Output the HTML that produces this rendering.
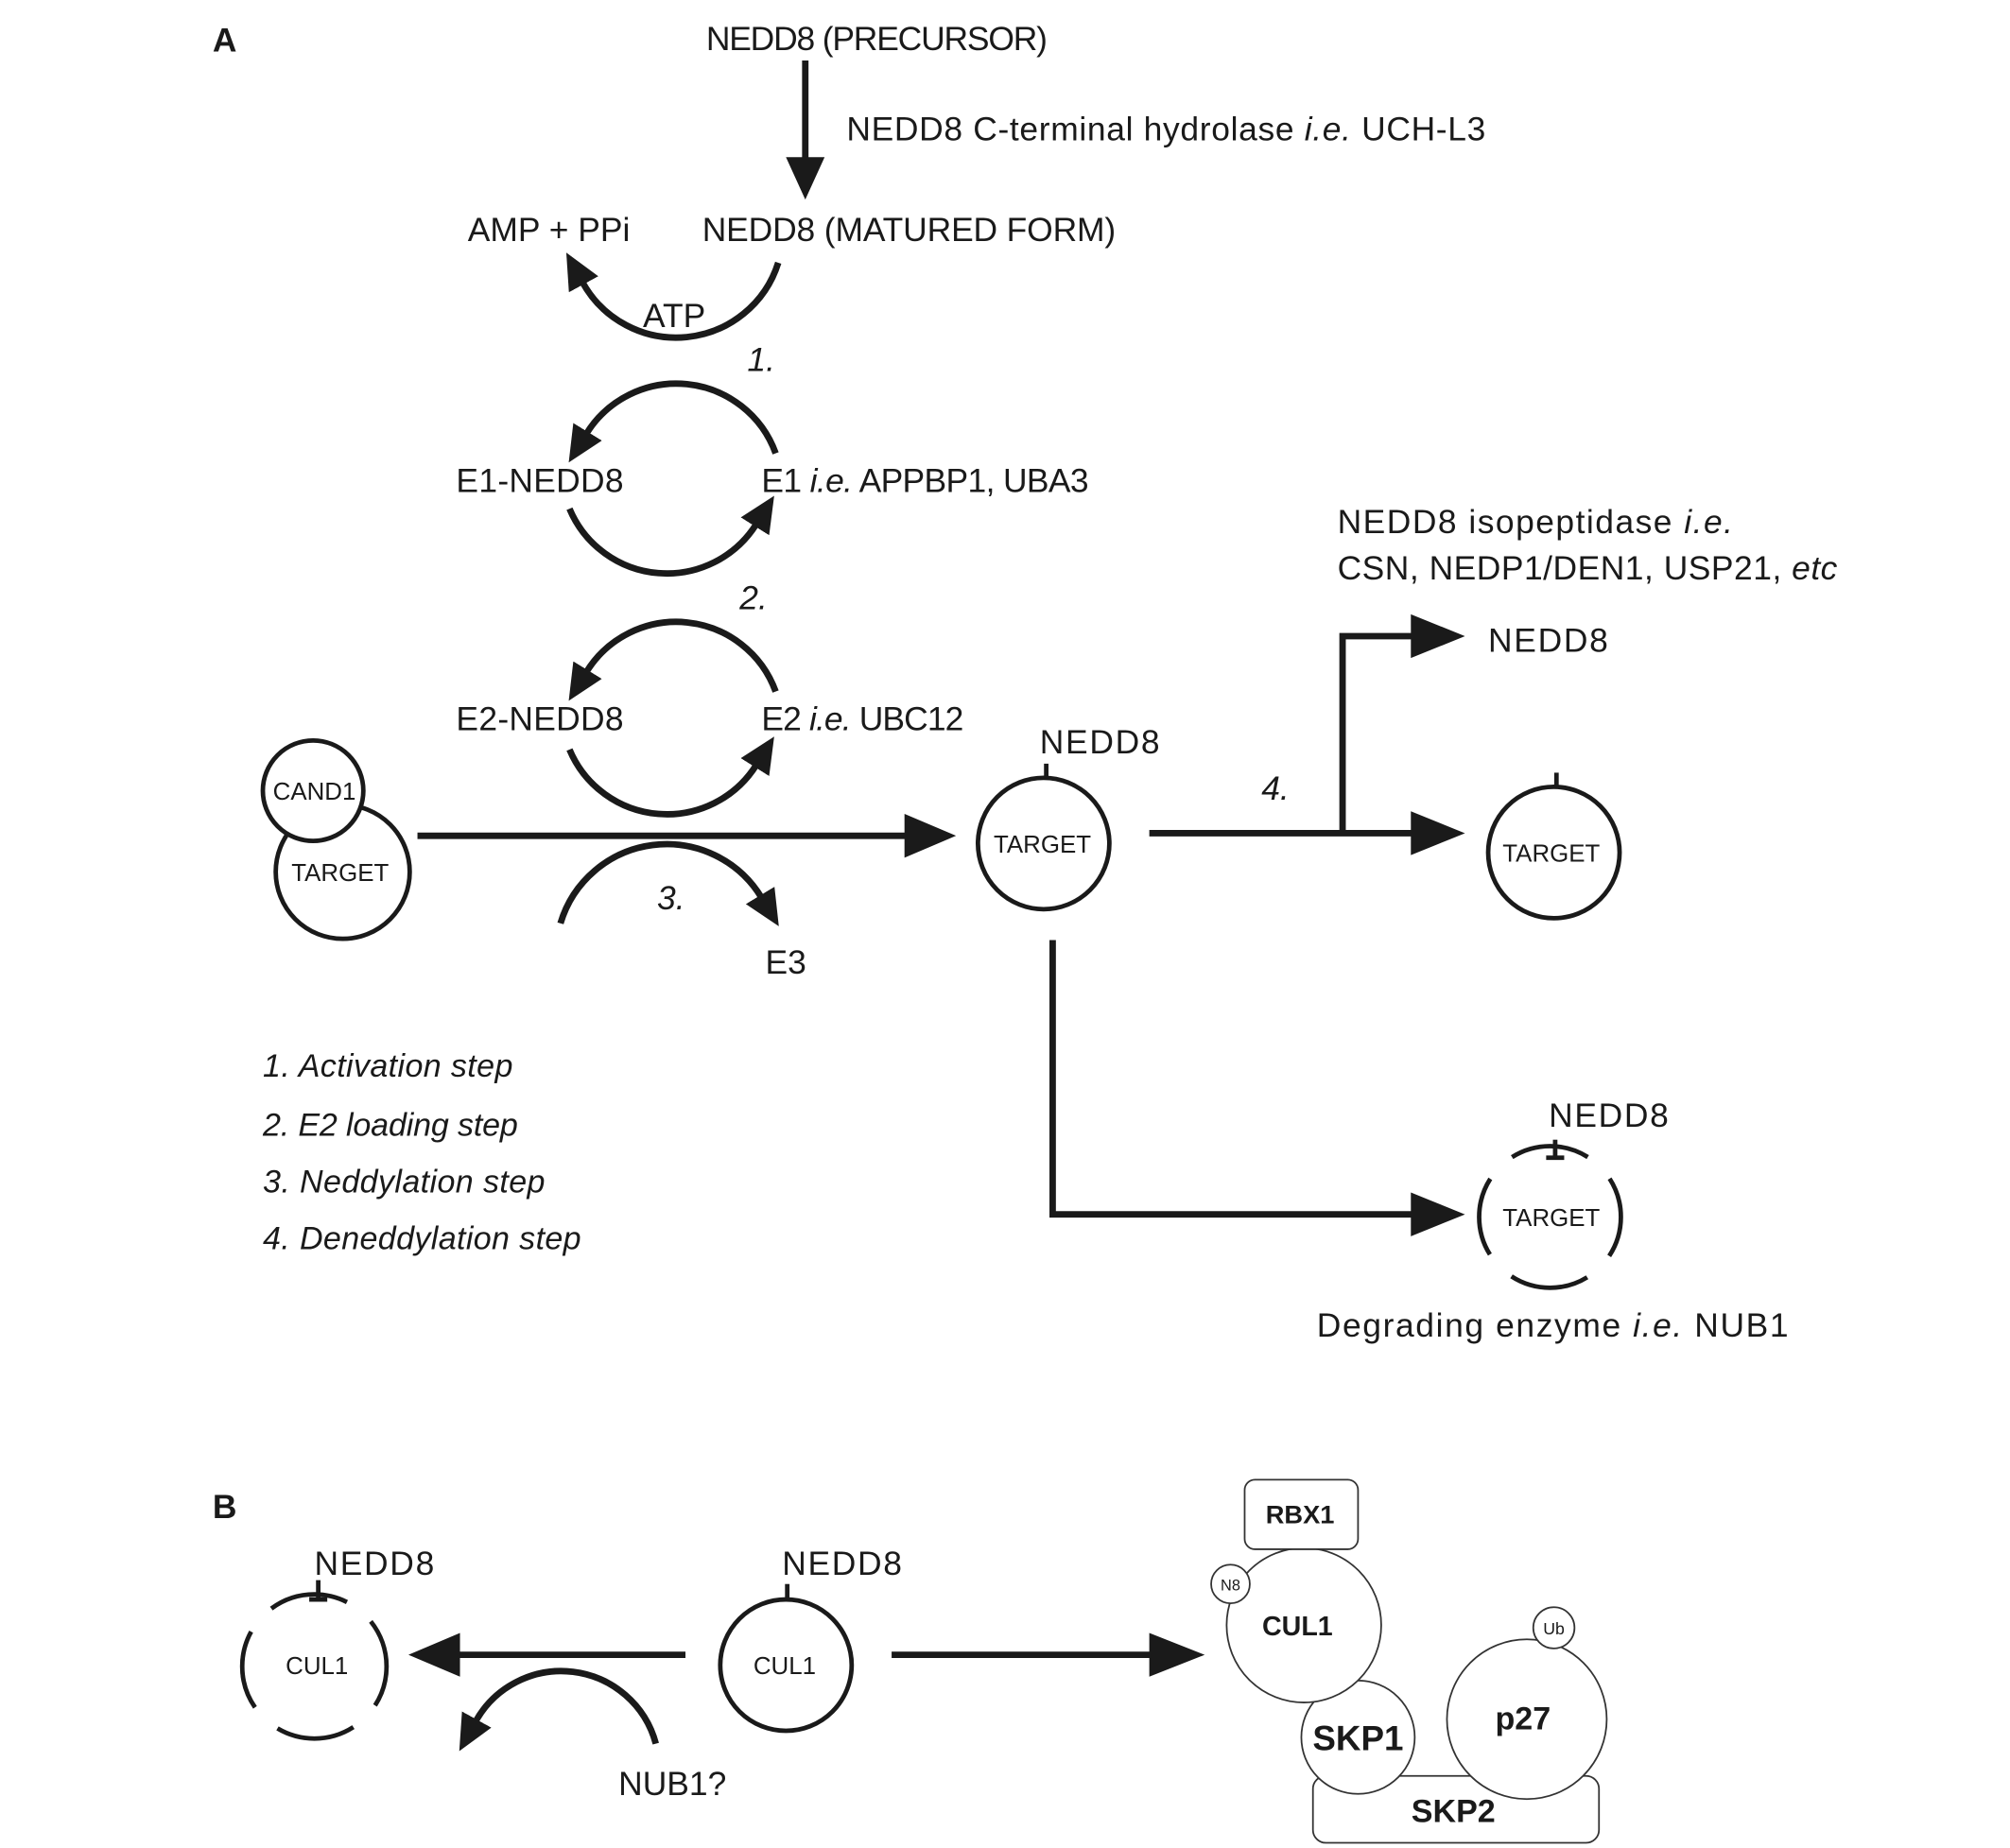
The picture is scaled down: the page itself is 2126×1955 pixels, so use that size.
<!DOCTYPE html>
<html><head><meta charset="utf-8"><style>
html,body{margin:0;padding:0;background:#fff;}
svg{display:block;}
text{font-family:"Liberation Sans",sans-serif;fill:#1a1a1a;}
</style></head><body>
<svg width="2126" height="1955" viewBox="0 0 1560 1435" preserveAspectRatio="none" xmlns="http://www.w3.org/2000/svg">
<defs>
<marker id="ah" markerUnits="userSpaceOnUse" markerWidth="40" markerHeight="40" refX="2" refY="13" orient="auto">
<path d="M0,0 L28,13 L0,26 z" fill="#1a1a1a"/>
</marker>
</defs>
<g transform="translate(-3,-3)">
<g fill="none" stroke="#1a1a1a" stroke-width="5">
<line x1="628" y1="50" x2="628" y2="128"/>
<path d="M607,207 A83,83 0 0 1 455,222" marker-end="url(#ah)"/>
<path d="M605,355 A82,82 0 0 0 458,340" marker-end="url(#ah)"/>
<path d="M445,398 A82,82 0 0 0 590,410" marker-end="url(#ah)"/>
<path d="M605,540 A82,82 0 0 0 458,525" marker-end="url(#ah)"/>
<path d="M445,585 A82,82 0 0 0 590,597" marker-end="url(#ah)"/>
<path d="M438,720 A86,86 0 0 1 594,700" marker-end="url(#ah)"/>
<line x1="327" y1="652" x2="710" y2="652"/>
<polyline points="895,650 1100,650"/>
<polyline points="1045,650 1045,497 1100,497"/>
<polyline points="820,733 820,946 1100,946"/>
<line x1="535" y1="1288" x2="358" y2="1288"/>
<line x1="695" y1="1288" x2="900" y2="1288"/>
<path d="M512,1357 A76,76 0 0 0 372,1340" marker-end="url(#ah)"/>
</g>
<g fill="#1a1a1a">
<polygon points="613,125 643,125 628,158"/>
<polygon points="705,635 745,652 705,669"/>
<polygon points="1098,480 1140,497 1098,514"/>
<polygon points="1098,633 1140,650 1098,667"/>
<polygon points="1098,929 1140,946 1098,963"/>
<polygon points="360,1271 320,1288 360,1305"/>
<polygon points="895,1271 938,1288 895,1305"/>
</g>
<g stroke="#1a1a1a" stroke-width="3.5" fill="#fff">
<circle cx="269" cy="680" r="52"/>
<circle cx="246" cy="617" r="39"/>
<circle cx="813" cy="658" r="51"/>
<circle cx="1209" cy="665" r="51"/>
<circle cx="613" cy="1296" r="51"/>
</g>
<g stroke="#1a1a1a" stroke-width="3.5" fill="none">
<line x1="815" y1="596" x2="815" y2="607"/>
<line x1="1211" y1="603" x2="1211" y2="614"/>
<line x1="614" y1="1233" x2="614" y2="1245"/>
<circle cx="1206" cy="948" r="55" stroke-dasharray="62 24" stroke-dashoffset="30"/>
<line x1="1210" y1="888" x2="1210" y2="902"/><line x1="1203" y1="902" x2="1217" y2="902"/>
<circle cx="247" cy="1297" r="56" stroke-dasharray="62 24" stroke-dashoffset="30"/>
<line x1="250" y1="1230" x2="250" y2="1245"/><line x1="243" y1="1245" x2="257" y2="1245"/>
</g>
<g stroke="#333" stroke-width="1.3" fill="#fff">
<rect x="1022" y="1382" width="222" height="52" rx="10"/>
<circle cx="1057" cy="1352" r="44"/>
<circle cx="1015" cy="1265" r="60"/>
<circle cx="1188" cy="1338" r="62"/>
<circle cx="1209" cy="1267" r="16"/>
<circle cx="958" cy="1233" r="15"/>
<rect x="969" y="1152" width="88" height="54" rx="8"/>
</g>
<text x="168" y="43" font-family="Liberation Serif" font-weight="bold" font-size="26">A</text>
<text x="168" y="1182" font-family="Liberation Serif" font-weight="bold" font-size="26">B</text>
<g font-size="26">
<text x="551" y="42" textLength="265">NEDD8 (PRECURSOR)</text>
<text x="660" y="112" textLength="496">NEDD8 C-terminal hydrolase <tspan font-style="italic">i.e.</tspan> UCH-L3</text>
<text x="366" y="190" textLength="126">AMP + PPi</text>
<text x="548" y="190" textLength="321">NEDD8 (MATURED FORM)</text>
<text x="502" y="257">ATP</text>
<text x="583" y="291" font-style="italic">1.</text>
<text x="357" y="385" textLength="130">E1-NEDD8</text>
<text x="594" y="385" textLength="254">E1 <tspan font-style="italic">i.e.</tspan> APPBP1, UBA3</text>
<text x="577" y="476" font-style="italic">2.</text>
<text x="357" y="570" textLength="130">E2-NEDD8</text>
<text x="594" y="570" textLength="157">E2 <tspan font-style="italic">i.e.</tspan> UBC12</text>
<text x="513" y="709" font-style="italic">3.</text>
<text x="597" y="759">E3</text>
<text x="810" y="588" textLength="93">NEDD8</text>
<text x="982" y="624" font-style="italic">4.</text>
<text x="1041" y="417" textLength="307">NEDD8 isopeptidase <tspan font-style="italic">i.e.</tspan></text>
<text x="1041" y="453" textLength="388">CSN, NEDP1/DEN1, USP21, <tspan font-style="italic">etc</tspan></text>
<text x="1158" y="509" textLength="93">NEDD8</text>
<text x="1205" y="878" textLength="93">NEDD8</text>
<text x="1025" y="1041" textLength="366">Degrading enzyme <tspan font-style="italic">i.e.</tspan> NUB1</text>
<text x="247" y="1226" textLength="93">NEDD8</text>
<text x="610" y="1226" textLength="93">NEDD8</text>
<text x="483" y="1397">NUB1?</text>
</g>
<g font-size="25" font-style="italic">
<text x="207" y="839" textLength="194">1. Activation step</text>
<text x="207" y="885" textLength="198">2. E2 loading step</text>
<text x="207" y="929" textLength="219">3. Neddylation step</text>
<text x="207" y="973" textLength="247">4. Deneddylation step</text>
</g>
<g font-size="19" text-anchor="middle">
<text x="247" y="624">CAND1</text>
<text x="267" y="687">TARGET</text>
<text x="812" y="665">TARGET</text>
<text x="1207" y="672">TARGET</text>
<text x="1207" y="955">TARGET</text>
<text x="249" y="1303">CUL1</text>
<text x="612" y="1303">CUL1</text>
</g>
<g font-weight="bold" text-anchor="middle">
<text x="1012" y="1186" font-size="20">RBX1</text>
<text x="1010" y="1273" font-size="21">CUL1</text>
<text x="1057" y="1362" font-size="27">SKP1</text>
<text x="1185" y="1346" font-size="25">p27</text>
<text x="1131" y="1418" font-size="25">SKP2</text>
</g>
<text x="958" y="1238" font-size="12" text-anchor="middle">N8</text>
<text x="1209" y="1272" font-size="13" text-anchor="middle">Ub</text>
</g>
</svg>
</body></html>
